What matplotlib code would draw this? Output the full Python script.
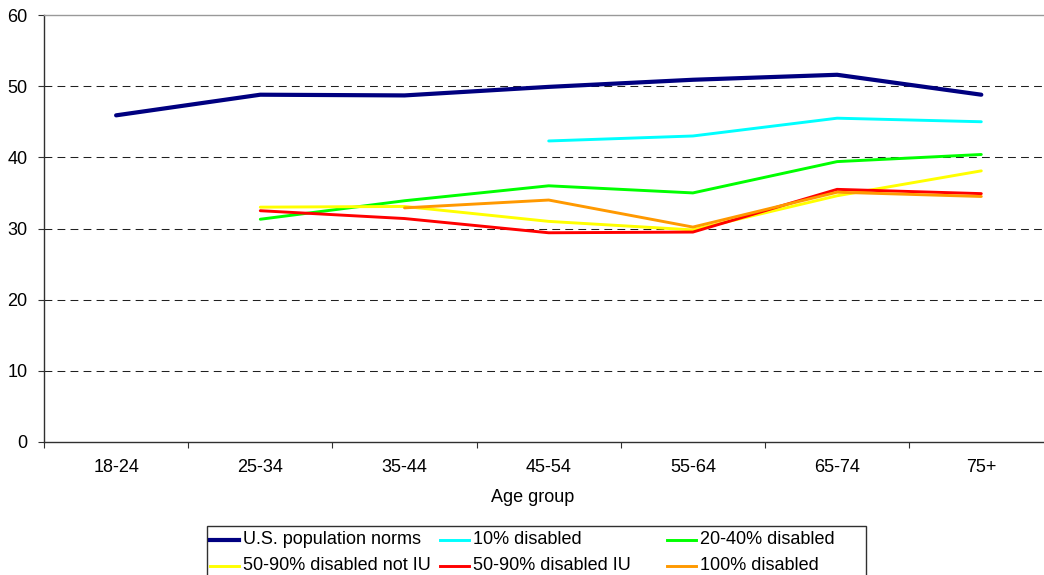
import numpy as np
import matplotlib
matplotlib.use('Agg')
import matplotlib.pyplot as plt
from matplotlib.lines import Line2D
from matplotlib.patches import Rectangle

plt.rcParams['font.family'] = ['Liberation Sans', 'DejaVu Sans']
plt.rcParams['font.size'] = 13

nan = np.nan
age_groups = ['18-24', '25-34', '35-44', '45-54', '55-64', '65-74', '75+']

us_norms = [45.9, 48.8, 48.7, 49.9, 50.9, 51.6, 48.8]
disabled_10 = [nan, nan, nan, 42.3, 43.0, 45.5, 45.0]
disabled_20_40 = [nan, 31.3, 33.9, 36.0, 35.0, 39.4, 40.4]
disabled_50_90_not_iu = [nan, 33.0, 33.1, 31.0, 29.8, 34.6, 38.1]
disabled_50_90_iu = [nan, 32.5, 31.4, 29.4, 29.5, 35.5, 34.9]
disabled_100 = [nan, nan, 32.9, 34.0, 30.2, 35.1, 34.5]

series = [
    ('U.S. population norms', us_norms, '#000080', 3.0),
    ('10% disabled', disabled_10, '#00FFFF', 2.1),
    ('20-40% disabled', disabled_20_40, '#00FF00', 2.1),
    ('50-90% disabled not IU', disabled_50_90_not_iu, '#FFFF00', 2.1),
    ('50-90% disabled IU', disabled_50_90_iu, '#FF0000', 2.1),
    ('100% disabled', disabled_100, '#FF9900', 2.1),
]

W, H = 1044, 575
fig = plt.figure(figsize=(W / 100, H / 100), dpi=100)
ax = fig.add_axes([44 / W, (H - 442) / H, 7 * 144.2 / W, 427 / H])

x = np.arange(len(age_groups))
for name, vals, col, lw in series:
    ax.plot(x, vals, color=col, lw=lw, solid_capstyle='round', zorder=3)

ax.set_xlim(-0.5, len(age_groups) - 0.5)
ax.set_ylim(0, 60)
ax.set_yticks(np.arange(0, 61, 10))
for yv in range(10, 60, 10):
    ax.axhline(yv, color='#202020', lw=0.75, dashes=(7.5, 5), zorder=1)

ax.set_xticks(x)
ax.set_xticklabels(age_groups)
ax.set_xticks(np.arange(-0.5, len(age_groups)), minor=True)
ax.tick_params(axis='x', which='major', length=0, pad=12)
ax.tick_params(axis='x', which='minor', length=4, width=0.8, direction='out', color='#303030')
ax.tick_params(axis='y', length=4, width=0.8, direction='out', pad=8, color='#303030')

for side in ['left', 'bottom']:
    ax.spines[side].set_color('#303030')
    ax.spines[side].set_linewidth(1.0)
ax.spines['top'].set_color('#999999')
ax.spines['top'].set_linewidth(1.0)
ax.spines['right'].set_color('#999999')

fig.text(533 / W, 1 - 498 / H, 'Age group', ha='center', va='center')

# legend box, laid out in pixel positions
def px(xp, yp):
    return xp / W, 1 - yp / H

x0, y0 = px(207, 526)
x1, y1 = px(866, 600)
fig.add_artist(Rectangle((x0, y1), x1 - x0, y0 - y1, transform=fig.transFigure,
                         fill=False, ec='#303030', lw=1.0, clip_on=False))
col_x = [210, 440, 667]
row_y = [539.5, 565.5]
for i, (name, vals, col, lw) in enumerate(series):
    r, c = divmod(i, 3)
    lx0, ly = px(col_x[c], row_y[r])
    lx1, _ = px(col_x[c] + 29, row_y[r])
    fig.add_artist(Line2D([lx0, lx1], [ly, ly], color=col, lw=lw, transform=fig.transFigure))
    tx, ty = px(col_x[c] + 33, row_y[r])
    fig.text(tx, ty, name, ha='left', va='center')

fig.savefig('out.png', dpi=100)
